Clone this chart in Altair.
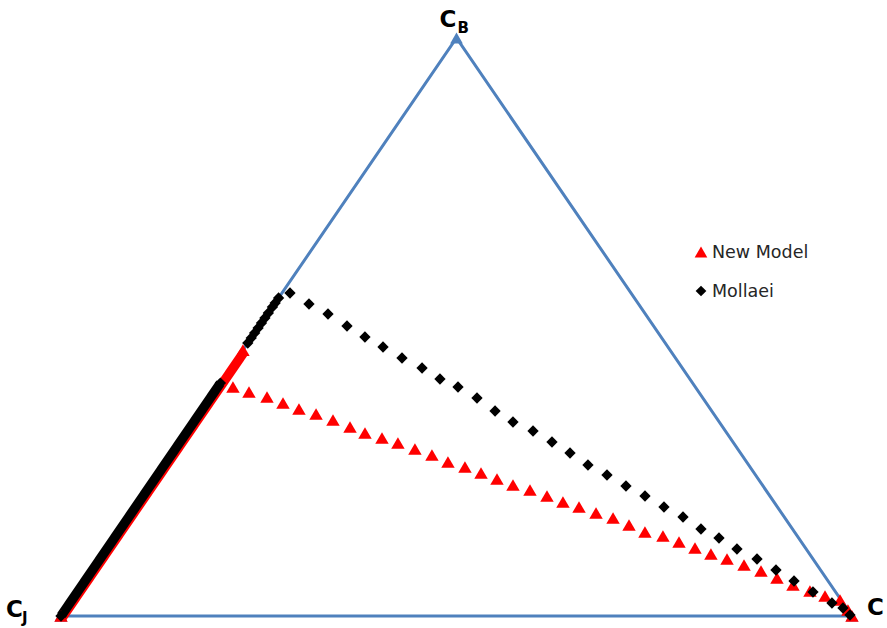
import altair as alt
import pandas as pd

# Ternary compositions: cb = fraction of C_B (top vertex), cc = fraction of C (right vertex);
# the remainder is C_J (bottom-left vertex).

# New Model: points leaving the C_J–C_B side towards C
new_model_cb = [0.3962, 0.3875, 0.3789, 0.3685, 0.3581, 0.3495, 0.3391, 0.3270, 0.3166, 0.3080,
                0.2993, 0.2889, 0.2785, 0.2664, 0.2578, 0.2474, 0.2370, 0.2266, 0.2180, 0.2076,
                0.1972, 0.1886, 0.1782, 0.1696, 0.1574, 0.1453, 0.1384, 0.1280, 0.1176, 0.1073,
                0.0986, 0.0882, 0.0779, 0.0657, 0.0536, 0.0433, 0.0346, 0.0277, 0.0104, 0.0000]
new_model_cc = [0.0193, 0.0439, 0.0710, 0.0964, 0.1218, 0.1477, 0.1743, 0.2019, 0.2260, 0.2518,
                0.2763, 0.3030, 0.3297, 0.3560, 0.3818, 0.4073, 0.4327, 0.4581, 0.4839, 0.5106,
                0.5360, 0.5606, 0.5873, 0.6131, 0.6394, 0.6656, 0.6918, 0.7173, 0.7427, 0.7680,
                0.7927, 0.8194, 0.8460, 0.8723, 0.8986, 0.9252, 0.9486, 0.9710, 0.9897, 1.0000]
# New Model: continuous run of points along the C_J–C_B side (start, end)
new_model_run_cb = [0.0, 0.46]

# Mollaei: points leaving the C_J–C_B side towards C
mollaei_cb = [0.5588, 0.5398, 0.5225, 0.5017, 0.4827, 0.4654, 0.4464, 0.4291, 0.4100, 0.3962,
              0.3772, 0.3547, 0.3356, 0.3201, 0.3010, 0.2820, 0.2612, 0.2439, 0.2249, 0.2076,
              0.1886, 0.1713, 0.1505, 0.1349, 0.1159, 0.0986, 0.0796, 0.0606, 0.0415, 0.0225,
              0.0138, 0.0017]
mollaei_cc = [0.0101, 0.0436, 0.0763, 0.1107, 0.1429, 0.1744, 0.2079, 0.2419, 0.2741, 0.3038,
              0.3373, 0.3714, 0.4036, 0.4367, 0.4702, 0.5025, 0.5356, 0.5683, 0.6018, 0.6345,
              0.6680, 0.7007, 0.7338, 0.7644, 0.7966, 0.8306, 0.8641, 0.8964, 0.9299, 0.9634,
              0.9817, 0.9966]
# Mollaei: separate points on the C_J–C_B side
mollaei_edge_cb = [0.5502, 0.5415, 0.5346, 0.5242, 0.5156, 0.5069, 0.4983, 0.4896, 0.4810, 0.4723]
# Mollaei: continuous run of points along the C_J–C_B side (start, end)
mollaei_run_cb = [0.0, 0.403]

# Triangle outline C_J -> C_B -> C -> C_J
vertex_names = ["CJ", "CB", "C", "CJ"]
vertex_cb = [0.0, 1.0, 0.0, 0.0]
vertex_cc = [0.0, 0.0, 1.0, 0.0]

BLUE = "#4F81BD"
RED = "#FF0000"
BLACK = "#000000"
FONT = "DejaVu Sans"

outline = pd.DataFrame({"vertex": vertex_names, "cb": vertex_cb, "cc": vertex_cc,
                        "step": list(range(len(vertex_names)))})
nm_pts = pd.DataFrame({"cb": new_model_cb, "cc": new_model_cc})
nm_run = pd.DataFrame({"cb": new_model_run_cb, "cc": [0.0] * len(new_model_run_cb)})
mo_pts = pd.DataFrame({"cb": mollaei_edge_cb + mollaei_cb,
                       "cc": [0.0] * len(mollaei_edge_cb) + mollaei_cc})
mo_run = pd.DataFrame({"cb": mollaei_run_cb, "cc": [0.0] * len(mollaei_run_cb)})

# Cartesian position inside the triangle
xs = alt.Scale(domain=[0, 1], range=[61, 852])
ys = alt.Scale(domain=[0, 1], range=[616, 38])
X = alt.X("px:Q", scale=xs, axis=None)
Y = alt.Y("cb:Q", scale=ys, axis=None)
to_xy = {"px": "datum.cc + datum.cb / 2"}


def base(df):
    return alt.Chart(df).transform_calculate(**to_xy)


edges = base(outline).mark_line(color=BLUE, strokeWidth=3).encode(
    x=X, y=Y, order=alt.Order("step:Q"))
corners = base(outline).mark_point(shape="triangle-up", filled=True, opacity=1,
                                   color=BLUE, size=160).encode(x=X, y=Y)

nm_band = base(nm_run).mark_line(color=RED, strokeWidth=9.5, xOffset=1.6, yOffset=1.1).encode(x=X, y=Y)
mo_band = base(mo_run).mark_line(color=BLACK, strokeWidth=9.5).encode(x=X, y=Y)

nm_marks = base(pd.concat([nm_run, nm_pts])).mark_point(
    shape="triangle-up", filled=True, opacity=1, color=RED, size=180).encode(x=X, y=Y)
mo_marks = base(pd.concat([mo_run, mo_pts])).mark_point(
    shape="diamond", filled=True, opacity=1, color=BLACK, size=128).encode(x=X, y=Y)


def label(name, text, size, dx, dy):
    return base(outline[outline["vertex"] == name].head(1)).mark_text(
        text=text, font=FONT, fontWeight="bold", fontSize=size, color=BLACK,
        align="left", baseline="alphabetic", dx=dx, dy=dy).encode(x=X, y=Y)


labels = [
    label("CB", "C", 23, -17, -11),
    label("CB", "B", 15, 1, -5),
    label("CJ", "C", 23, -55, 1),
    label("CJ", "J", 15, -39, 7),
    label("C", "C", 23, 15, -1),
]

# Legend
legend_df = pd.DataFrame({"series": ["New Model", "Mollaei"]})
leg_tri = alt.Chart(legend_df.head(1)).mark_point(
    shape="triangle-up", filled=True, opacity=1, color=RED, size=160).encode(
    x=alt.value(701), y=alt.value(252))
leg_dia = alt.Chart(legend_df.tail(1)).mark_point(
    shape="diamond", filled=True, opacity=1, color=BLACK, size=115).encode(
    x=alt.value(701), y=alt.value(291))
leg_txt1 = alt.Chart(legend_df.head(1)).mark_text(
    font=FONT, fontSize=17.5, color="#262626", align="left", baseline="alphabetic").encode(
    x=alt.value(712), y=alt.value(258), text="series:N")
leg_txt2 = alt.Chart(legend_df.tail(1)).mark_text(
    font=FONT, fontSize=17.5, color="#262626", align="left", baseline="alphabetic").encode(
    x=alt.value(712), y=alt.value(297), text="series:N")

chart = alt.layer(
    edges, corners, nm_band, mo_band, nm_marks, mo_marks, *labels,
    leg_tri, leg_dia, leg_txt1, leg_txt2,
).properties(
    width=887, height=628, autosize="none", padding=0, background="white"
).configure_view(strokeWidth=0)

chart.save("out.html", embed_options={"renderer": "svg", "actions": False})
